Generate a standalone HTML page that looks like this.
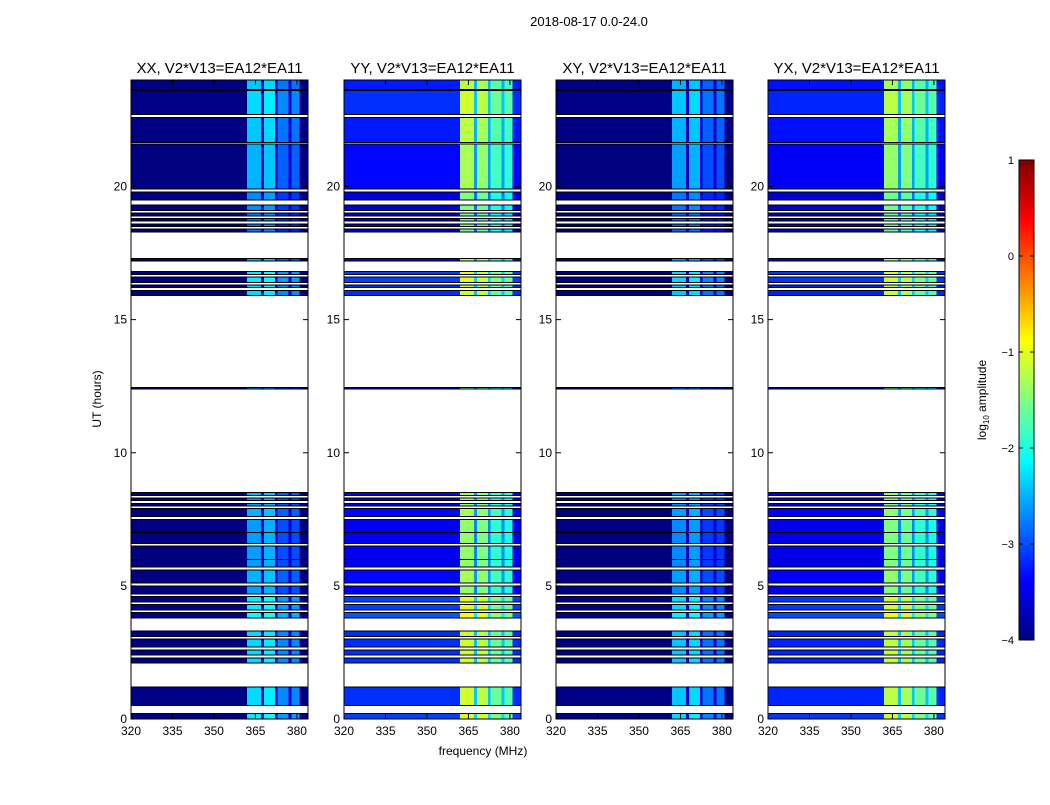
<!DOCTYPE html>
<html><head><meta charset="utf-8"><style>
body{margin:0;background:#fff;font-family:"Liberation Sans",sans-serif}
svg text{font-family:"Liberation Sans",sans-serif}
</style></head><body>
<svg id="fig" width="1050" height="800" viewBox="0 0 1050 800" xmlns="http://www.w3.org/2000/svg">
<rect width="1050" height="800" fill="#fff"/>
<text x="589" y="26" font-size="13" text-anchor="middle">2018-08-17 0.0-24.0</text>
<text x="483" y="755" font-size="12" text-anchor="middle">frequency (MHz)</text>
<text transform="translate(101,399) rotate(-90)" font-size="12" text-anchor="middle">UT (hours)</text>
<g id="panels"></g>
<g id="cbar"></g>
</svg>
<script>
const panelTitles = ["XX, V2*V13=EA12*EA11","YY, V2*V13=EA12*EA11","XY, V2*V13=EA12*EA11","YX, V2*V13=EA12*EA11"];
const xTicks = [320,335,350,365,380];
const yTicks = [0,5,10,15,20];
const cbTicks = [1,0,-1,-2,-3,-4];
// frequency channels 320..383 MHz
const channelStart = 320, channelWidth = 1, nChannels = 64;
// time segments of valid data [startHour, endHour]
const segStart = [0.0,0.5,2.1,2.4,2.7,3.1,3.8,4.1,4.4,4.7,5.1,5.7,6.0,6.6,7.0,7.6,8.0,8.2,8.4,12.4,15.9,16.2,16.4,16.7,17.2,18.3,18.5,18.7,18.9,19.1,19.5,19.9,21.65,22.7,23.65];
const segEnd   = [0.2,1.2,2.3,2.6,3.0,3.3,4.0,4.3,4.6,5.0,5.6,6.0,6.5,7.0,7.5,7.9,8.1,8.3,8.5,12.45,16.1,16.3,16.6,16.8,17.3,18.4,18.6,18.8,19.0,19.3,19.8,21.6,22.6,23.6,24.0];
const segGain  = [0.3,0.2,0.2,0.2,0.2,0.2,0.4,0.3,0.3,-0.1,0.0,-0.1,-0.1,-0.1,-0.1,0.0,-0.1,-0.1,0.0,-0.2,0.2,0.2,0.3,0.3,0.0,-0.3,-0.3,-0.3,-0.3,-0.2,-0.2,0.0,0.1,0.2,0.1];
// log10 amplitude background / band levels per panel
const bgLevel = [-4.0,-3.35,-4.0,-3.4];
const band1 = [-2.5,-1.3,-2.6,-1.4]; // 362-367 MHz
const band2 = [-2.4,-1.4,-2.5,-1.5]; // 368-372 MHz
const band3 = [-2.9,-1.8,-3.0,-1.8]; // 373-376 MHz
const band4 = [-2.9,-1.9,-3.0,-1.9]; // 378-380 MHz
const gapLevel = [-3.6,-2.6,-3.6,-2.6];

const NS="http://www.w3.org/2000/svg";
const panelX=[131,344,556,768], PW=177, PY0=80, PY1=719;
const xMin=320, xMax=384, yMin=0, yMax=24;
function sx(p,f){return panelX[p]+(f-xMin)/(xMax-xMin)*PW;}
function sy(h){return PY1-(h-yMin)/(yMax-yMin)*(PY1-PY0);}
function jet(v){let t=(v+4)/5;t=Math.max(0,Math.min(1,t));
 const c=x=>Math.round(255*Math.max(0,Math.min(1,1.5-Math.abs(4*t-x))));
 return `rgb(${c(3)},${c(2)},${c(1)})`;}
function chanLevel(p,f){
 if(f>=362&&f<367) return band1[p];
 if(f>=368&&f<372) return band2[p];
 if(f>=373&&f<377) return band3[p];
 if(f>=378&&f<381) return band4[p];
 if(f>=367&&f<378) return gapLevel[p];
 return bgLevel[p];}
function mk(tag,attrs,parent){const e=document.createElementNS(NS,tag);for(const k in attrs)e.setAttribute(k,attrs[k]);parent.appendChild(e);return e;}
const G=document.getElementById('panels');
for(let p=0;p<4;p++){
 const g=mk('g',{},G);
 
 
 const hm=mk('g',{'shape-rendering':'crispEdges'},g);
 
 
 for(let s=0;s<segStart.length;s++){
  const y0=sy(segEnd[s]), y1=sy(segStart[s]);
  for(let c=0;c<nChannels;c++){
   const f=channelStart+c*channelWidth;
   let v=chanLevel(p,f); if(v>-3.5) v+=segGain[s]; else v+=segGain[s]*0.15;
   const r=mk('rect',{x:sx(p,f),y:y0,width:sx(p,f+channelWidth)-sx(p,f)+0.4,height:Math.max(1,y1-y0),fill:jet(v)},hm);
   
   
  }
  mk('line',{x1:panelX[p],x2:panelX[p]+PW,y1:y0,y2:y0,stroke:'#000','stroke-width':1},hm);
  mk('line',{x1:panelX[p],x2:panelX[p]+PW,y1:y1,y2:y1,stroke:'#000','stroke-width':1},hm);
 }
 const fr=mk('rect',{x:panelX[p],y:PY0,width:PW,height:PY1-PY0,fill:'none',stroke:'#000','stroke-width':1},g);
 
 
 const t=mk('text',{x:panelX[p]+PW/2,y:73,'font-size':15,'text-anchor':'middle'},g);
 t.textContent=panelTitles[p];
 
 
 xTicks.forEach(v=>{const x=sx(p,v);
  mk('line',{x1:x,x2:x,y1:PY1,y2:PY1-5,stroke:'#000'},g);
  mk('line',{x1:x,x2:x,y1:PY0,y2:PY0+5,stroke:'#000'},g);
  const l=mk('text',{x:x,y:PY1+16,'font-size':12,'text-anchor':'middle'},g);l.textContent=v;
  
  });
 yTicks.forEach(v=>{const y=sy(v);
  mk('line',{x1:panelX[p],x2:panelX[p]+5,y1:y,y2:y,stroke:'#000'},g);
  mk('line',{x1:panelX[p]+PW,x2:panelX[p]+PW-5,y1:y,y2:y,stroke:'#000'},g);
  const l=mk('text',{x:panelX[p]-4,y:y+4,'font-size':12,'text-anchor':'end'},g);l.textContent=v;
  
  });
}
// colorbar
const CB=document.getElementById('cbar');


const cx=1019,cw=15,cy0=160,cy1=640;
for(let i=0;i<120;i++){const v=-4+5*(i+0.5)/120;
 mk('rect',{x:cx,y:cy1-(i+1)*(cy1-cy0)/120,width:cw,height:(cy1-cy0)/120+0.5,fill:jet(v),'shape-rendering':'crispEdges'},CB);}
mk('rect',{x:cx,y:cy0,width:cw,height:cy1-cy0,fill:'none',stroke:'#000'},CB);
cbTicks.forEach(v=>{const y=cy1-(v+4)/5*(cy1-cy0);
 mk('line',{x1:cx,x2:cx+4,y1:y,y2:y,stroke:'#000'},CB);
 mk('line',{x1:cx+cw,x2:cx+cw-4,y1:y,y2:y,stroke:'#000'},CB);
 const l=mk('text',{x:1014,y:y+4,'font-size':11,'text-anchor':'end'},CB);l.textContent=(v<0?'\u2212'+(-v):v);
 
 });
const cl=mk('text',{transform:'translate(986,400) rotate(-90)','font-size':12,'text-anchor':'middle'},CB);
cl.innerHTML='log<tspan font-size="8" dy="3">10</tspan><tspan dy="-3"> amplitude</tspan>';


</script>
</body></html>
